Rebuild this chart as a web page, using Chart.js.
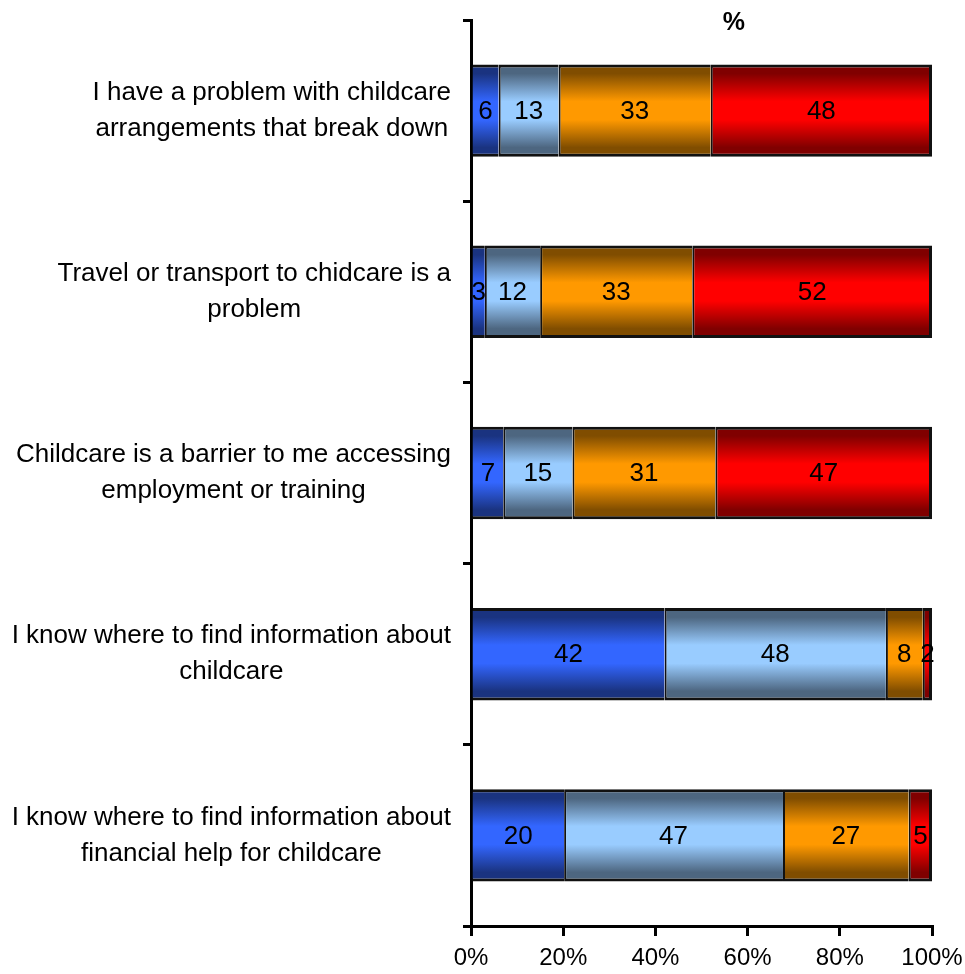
<!DOCTYPE html>
<html>
<head>
<meta charset="utf-8">
<script src="https://cdn.jsdelivr.net/npm/chart.js@4/dist/chart.umd.min.js"></script>
<style>
    html, body { margin: 0; padding: 0; background: #fff; }
    .surveyChart { width: 965px; height: 974px; position: relative; }
</style>
</head>
<body>
<div class="surveyChart">
    <canvas id="childcareSurveyChart"></canvas>
</div>
<script>
// statements, top to bottom
const categories = [
    ["I have a problem with childcare", "arrangements that break down"],
    ["Travel or transport to chidcare is a", "problem"],
    ["Childcare is a barrier to me accessing", "employment or training"],
    ["I know where to find information about", "childcare"],
    ["I know where to find information about", "financial help for childcare"]
];

// shown values (%), one array per response group
const strongBlueValues = [6, 3, 7, 42, 20];
const lightBlueValues = [13, 12, 15, 48, 47];
const orangeValues = [33, 33, 31, 8, 27];
const redValues = [48, 52, 47, 2, 5];

const xTickValues = [0, 20, 40, 60, 80, 100];
const axisTitle = "%";

const FONT = "'Liberation Sans', Arial, sans-serif";
const BAR_PCT = 0.51;

// [middle colour, edge colour] for the banded fill
const seriesColours = [
    ["#3366FF", "#1A3380"],
    ["#99CCFF", "#4D6680"],
    ["#FF9900", "#804D00"],
    ["#FF0000", "#800000"]
];

const seriesValues = [strongBlueValues, lightBlueValues, orangeValues, redValues];

// the chart is a 100% stack, so each row is scaled to its own total
const rowTotals = categories.map((c, i) => seriesValues.reduce((s, arr) => s + arr[i], 0));

function bandedFill(colours) {
    return function (ctx) {
        let chart = ctx.chart;
        let yScale = chart.scales.y;
        if (!chart.chartArea || !yScale || ctx.dataIndex === undefined) {
            return colours[0];
        }
        let yc = yScale.getPixelForValue(ctx.dataIndex);
        let half = (yScale.height / categories.length) * BAR_PCT / 2;
        let g = chart.ctx.createLinearGradient(0, yc - half, 0, yc + half);
        g.addColorStop(0, colours[1]);
        g.addColorStop(0.1, colours[1]);
        g.addColorStop(0.4, colours[0]);
        g.addColorStop(0.6, colours[0]);
        g.addColorStop(0.9, colours[1]);
        g.addColorStop(1, colours[1]);
        return g;
    };
}

let datasets = seriesValues.map((vals, si) => ({
    label: "series " + (si + 1),
    data: vals.map((v, i) => v / rowTotals[i] * 100),
    shownValues: vals,
    backgroundColor: bandedFill(seriesColours[si]),
    borderColor: "#111",
    borderWidth: {
        top: 3,
        bottom: 3,
        left: si === 0 ? 0 : 2,
        right: si === seriesValues.length - 1 ? 3 : 0
    },
    borderSkipped: false,
    inflateAmount: 0,
    barPercentage: BAR_PCT,
    categoryPercentage: 1
}));

// value in the middle of each segment
const segmentLabels = {
    id: "segmentLabels",
    afterDatasetsDraw(chart) {
        let ctx = chart.ctx;
        ctx.save();
        ctx.font = "26px " + FONT;
        ctx.fillStyle = "#000";
        ctx.textAlign = "center";
        ctx.textBaseline = "middle";
        chart.data.datasets.forEach((ds, di) => {
            chart.getDatasetMeta(di).data.forEach((el, i) => {
                let props = el.getProps(["x", "y", "base"], true);
                ctx.fillText(String(ds.shownValues[i]), (props.x + props.base) / 2, props.y + 1);
            });
        });
        ctx.restore();
    }
};

// right aligned label blocks with centred lines, plus the "%" heading
const sideLabels = {
    id: "sideLabels",
    afterDraw(chart) {
        let ctx = chart.ctx;
        let yScale = chart.scales.y;
        ctx.save();
        ctx.font = "26px " + FONT;
        ctx.fillStyle = "#000";
        ctx.textAlign = "center";
        ctx.textBaseline = "middle";
        let rightEdge = chart.chartArea.left - 20;
        let lineGap = 36;
        categories.forEach((lines, i) => {
            let maxW = Math.max(...lines.map(l => ctx.measureText(l).width));
            let cx = rightEdge - maxW / 2;
            let yc = yScale.getPixelForValue(i);
            let top = yc - (lines.length - 1) * lineGap / 2;
            lines.forEach((l, li) => ctx.fillText(l, cx, top + li * lineGap));
        });

        ctx.font = "bold 25px " + FONT;
        let xScale = chart.scales.x;
        ctx.fillText(axisTitle, xScale.getPixelForValue(57), chart.chartArea.top + 3);
        ctx.restore();
    }
};

let ctx = document.getElementById("childcareSurveyChart");
new Chart(ctx, {
    type: "bar",
    data: {
        labels: categories.map(c => c.join(" ")),
        datasets: datasets
    },
    options: {
        indexAxis: "y",
        responsive: true,
        maintainAspectRatio: false,
        animation: false,
        layout: {
            padding: {top: 20, right: 33, left: 0, bottom: 0}
        },
        scales: {
            x: {
                stacked: true,
                min: 0,
                max: 100,
                afterBuildTicks: (scale) => {
                    scale.ticks = xTickValues.map(v => ({value: v}));
                },
                afterFit: (scale) => {
                    scale.height = 48;
                    scale.paddingLeft = 0;
                    scale.paddingRight = 0;
                },
                ticks: {
                    padding: 8,
                    color: "#000",
                    font: {family: FONT, size: 24},
                    maxRotation: 0,
                    callback: (v) => v + "%"
                },
                grid: {
                    drawOnChartArea: false,
                    drawTicks: true,
                    tickLength: 10,
                    color: "#000",
                    lineWidth: 3
                },
                border: {display: true, color: "#000", width: 3}
            },
            y: {
                stacked: true,
                afterFit: (scale) => {
                    scale.width = 471;
                    scale.paddingTop = 0;
                    scale.paddingBottom = 0;
                },
                ticks: {display: false},
                grid: {
                    offset: true,
                    drawOnChartArea: false,
                    drawTicks: true,
                    tickLength: 8,
                    color: "#000",
                    lineWidth: 3
                },
                border: {display: true, color: "#000", width: 3}
            }
        },
        plugins: {
            legend: {display: false},
            title: {display: false},
            tooltip: {enabled: false}
        }
    },
    plugins: [segmentLabels, sideLabels]
});
</script>
</body>
</html>
